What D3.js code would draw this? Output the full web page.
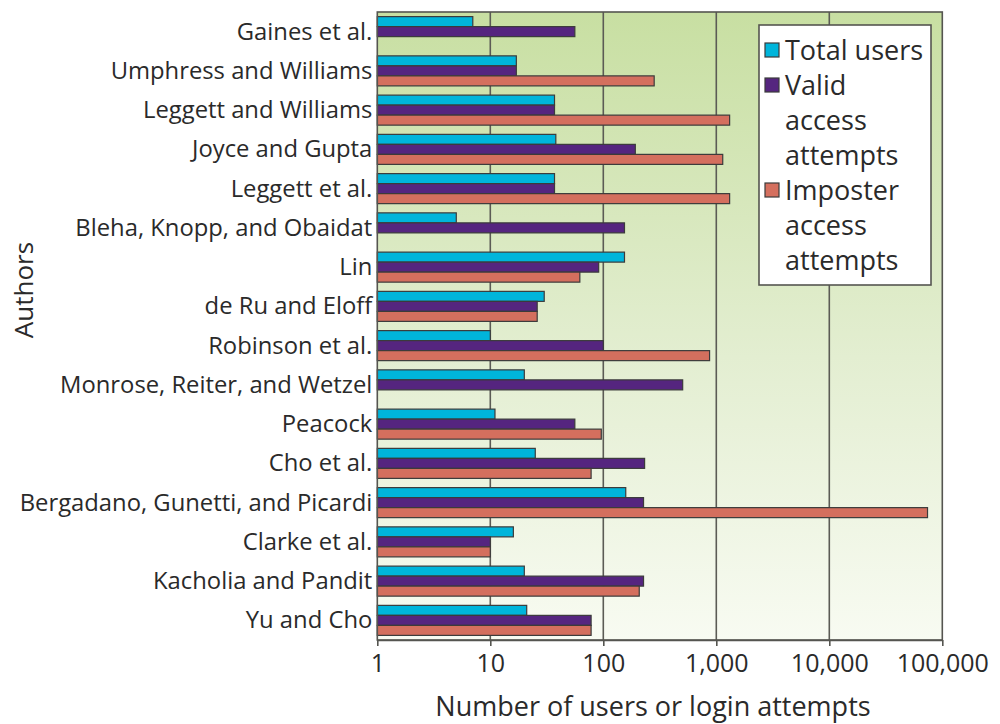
<!DOCTYPE html>
<html>
<head>
<meta charset="utf-8">
<script src="https://cdn.jsdelivr.net/npm/d3@7"></script>
<style>
  html, body { margin: 0; padding: 0; background: #fff; }
  svg { display: block; font-family: "Open Sans", "DejaVu Sans", sans-serif; }
</style>
</head>
<body>
<svg id="chart" width="1000" height="724"></svg>
<script>
// Keystroke-dynamics studies: participants and login attempts (log scale)
const authors = [
  "Gaines et al.",
  "Umphress and Williams",
  "Leggett and Williams",
  "Joyce and Gupta",
  "Leggett et al.",
  "Bleha, Knopp, and Obaidat",
  "Lin",
  "de Ru and Eloff",
  "Robinson et al.",
  "Monrose, Reiter, and Wetzel",
  "Peacock",
  "Cho et al.",
  "Bergadano, Gunetti, and Picardi",
  "Clarke et al.",
  "Kacholia and Pandit",
  "Yu and Cho"
];
const totalUsers       = [7, 17, 37, 38, 37, 5, 154, 30, 10, 20, 11, 25, 158, 16, 20, 21];
const validAttempts    = [56, 17, 37, 192, 37, 154, 91, 26, 100, 504, 56, 232, 227, 10, 227, 78];
const imposterAttempts = [null, 282, 1312, 1140, 1312, null, 62, 26, 872, null, 96, 78, 74000, 10, 208, 78];

const seriesNames  = ["Total users", "Valid access attempts", "Imposter access attempts"];
const legendLines  = [["Total users"], ["Valid", "access", "attempts"], ["Imposter", "access", "attempts"]];
const seriesColors = ["#00b5db", "#55257f", "#d46f5e"];

const tickValues = [1, 10, 100, 1000, 10000, 100000];
const tickLabels = ["1", "10", "100", "1,000", "10,000", "100,000"];

const xTitle = "Number of users or login attempts";
const yTitle = "Authors";

const seriesValues = [totalUsers, validAttempts, imposterAttempts];

const svg = d3.select("#chart");
const plot = { left: 377.3, right: 942.3, top: 12, bottom: 640 };

const x = d3.scaleLog().domain([1, 100000]).range([plot.left, plot.right]);
const y = d3.scaleBand().domain(authors).range([plot.top, plot.bottom])
  .paddingInner(0.235).paddingOuter(0.1175);
const ySeries = d3.scaleBand().domain(d3.range(seriesNames.length)).range([0, y.bandwidth()]);

// Plot background: green fading to near white downward
const defs = svg.append("defs");
const grad = defs.append("linearGradient").attr("id", "bg").attr("x1", 0).attr("y1", 0).attr("x2", 0).attr("y2", 1);
grad.append("stop").attr("offset", "0%").attr("stop-color", "#c8dfa2");
grad.append("stop").attr("offset", "55%").attr("stop-color", "#e3eed1");
grad.append("stop").attr("offset", "100%").attr("stop-color", "#f8fbf2");

svg.append("rect")
  .attr("x", plot.left).attr("y", plot.top)
  .attr("width", plot.right - plot.left).attr("height", plot.bottom - plot.top)
  .attr("fill", "url(#bg)");

// Decade gridlines
svg.append("g").selectAll("line")
  .data(tickValues.slice(1, -1))
  .join("line")
  .attr("x1", d => x(d)).attr("x2", d => x(d))
  .attr("y1", plot.top).attr("y2", plot.bottom)
  .attr("stroke", "#5b5b55").attr("stroke-width", 1.6);

// Bars
const rows = authors.map((a, i) => ({ author: a, values: seriesValues.map(s => s[i]) }));
const groups = svg.append("g").selectAll("g")
  .data(rows)
  .join("g")
  .attr("transform", d => `translate(0,${y(d.author)})`);

groups.selectAll("rect")
  .data(d => d.values.map((v, k) => ({ v, k })).filter(e => e.v != null))
  .join("rect")
  .attr("x", x(1))
  .attr("y", e => ySeries(e.k))
  .attr("width", e => x(e.v) - x(1))
  .attr("height", ySeries.bandwidth())
  .attr("fill", e => seriesColors[e.k])
  .attr("stroke", "#3b3b3b")
  .attr("stroke-width", 1.2);

// Frame
svg.append("rect")
  .attr("x", plot.left).attr("y", plot.top)
  .attr("width", plot.right - plot.left).attr("height", plot.bottom - plot.top)
  .attr("fill", "none").attr("stroke", "#555550").attr("stroke-width", 1.6);

// X axis
const xAxis = d3.axisBottom(x)
  .tickValues(tickValues)
  .tickFormat((d, i) => tickLabels[i])
  .tickSizeInner(6).tickSizeOuter(0).tickPadding(8);
const gx = svg.append("g").attr("transform", `translate(0,${plot.bottom})`).call(xAxis);
gx.select(".domain").attr("stroke", "#555550").attr("stroke-width", 1.6);
gx.selectAll(".tick line").attr("stroke", "#555550").attr("stroke-width", 1.6);
gx.selectAll(".tick text")
  .attr("fill", "#2a2a2a")
  .style("font-family", "'Open Sans', sans-serif")
  .style("font-size", "25px");

// Y category labels
svg.append("g").selectAll("text")
  .data(authors)
  .join("text")
  .attr("x", plot.left - 5)
  .attr("y", d => y(d) + y.bandwidth() / 2 - 1)
  .attr("text-anchor", "end")
  .attr("dominant-baseline", "central")
  .attr("fill", "#2a2a2a")
  .style("font-size", "23.8px")
  .text(d => d);

// Axis titles
svg.append("text")
  .attr("x", 653).attr("y", 716)
  .attr("text-anchor", "middle")
  .attr("fill", "#2a2a2a")
  .style("font-size", "27px")
  .text(xTitle);

svg.append("text")
  .attr("transform", "translate(33,290) rotate(-90)")
  .attr("text-anchor", "middle")
  .attr("fill", "#2a2a2a")
  .style("font-size", "26px")
  .text(yTitle);

// Legend
const legend = svg.append("g");
legend.append("rect")
  .attr("x", 759).attr("y", 25).attr("width", 172).attr("height", 260)
  .attr("fill", "#ffffff").attr("stroke", "#555550").attr("stroke-width", 1.6);

const lineH = 35;
let lineIdx = 0;
legendLines.forEach((lines, k) => {
  const baseY = 60 + lineIdx * lineH;
  legend.append("rect")
    .attr("x", 765).attr("y", baseY - 17).attr("width", 14).attr("height", 14)
    .attr("fill", seriesColors[k]).attr("stroke", "#3b3b3b").attr("stroke-width", 1.2);
  lines.forEach((t, j) => {
    legend.append("text")
      .attr("x", 785).attr("y", baseY + j * lineH)
      .attr("fill", "#2a2a2a")
      .style("font-size", "27px")
      .text(t);
  });
  lineIdx += lines.length;
});
</script>
</body>
</html>
